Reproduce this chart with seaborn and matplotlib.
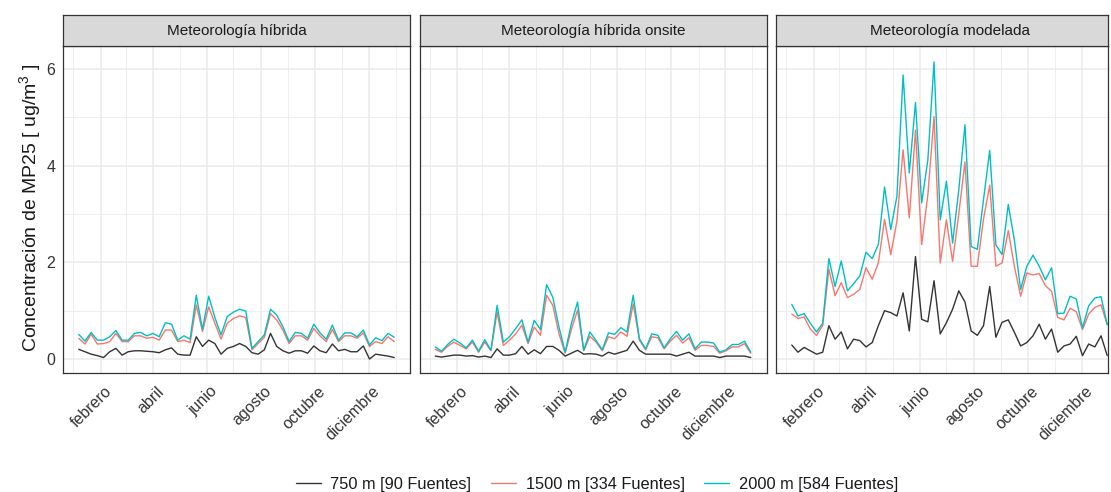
import numpy as np
import pandas as pd
import matplotlib
matplotlib.use("Agg")
import matplotlib.pyplot as plt
import matplotlib.dates as mdates
import matplotlib.transforms as mtransforms
from matplotlib.lines import Line2D
from matplotlib.ticker import FuncFormatter, MultipleLocator
import seaborn as sns

# Weekly dates
fechas = pd.date_range("2019-01-07", periods=52, freq="7D")

paneles = ["Meteorología híbrida", "Meteorología híbrida onsite", "Meteorología modelada"]
series = ["750 m [90 Fuentes]", "1500 m [334 Fuentes]", "2000 m [584 Fuentes]"]
colores = ["#333333", "#F8766D", "#00BFC4"]

hibrida_750 = [0.20, 0.15, 0.10, 0.07, 0.03, 0.15, 0.22, 0.08, 0.15, 0.17, 0.17, 0.16, 0.15,
               0.13, 0.19, 0.23, 0.10, 0.08, 0.08, 0.46, 0.26, 0.39, 0.32, 0.10, 0.22, 0.26,
               0.32, 0.26, 0.13, 0.10, 0.19, 0.53, 0.26, 0.17, 0.12, 0.17, 0.17, 0.12, 0.27,
               0.17, 0.13, 0.31, 0.17, 0.20, 0.15, 0.15, 0.27, 0.00, 0.10, 0.08, 0.06, 0.03]
hibrida_1500 = [0.43, 0.31, 0.51, 0.31, 0.32, 0.36, 0.53, 0.36, 0.36, 0.48, 0.48, 0.43, 0.45,
                0.39, 0.60, 0.60, 0.36, 0.39, 0.34, 1.12, 0.57, 1.08, 0.74, 0.41, 0.74, 0.84,
                0.89, 0.86, 0.19, 0.32, 0.45, 0.94, 0.81, 0.60, 0.32, 0.48, 0.48, 0.39, 0.63,
                0.48, 0.36, 0.61, 0.36, 0.48, 0.48, 0.43, 0.54, 0.26, 0.36, 0.32, 0.46, 0.36]
hibrida_2000 = [0.51, 0.37, 0.55, 0.39, 0.39, 0.46, 0.59, 0.39, 0.39, 0.53, 0.55, 0.48, 0.53,
                0.46, 0.75, 0.72, 0.39, 0.48, 0.41, 1.32, 0.61, 1.30, 0.86, 0.50, 0.88, 0.97,
                1.03, 0.99, 0.22, 0.36, 0.50, 1.03, 0.91, 0.67, 0.36, 0.55, 0.53, 0.43, 0.72,
                0.54, 0.41, 0.70, 0.39, 0.54, 0.54, 0.46, 0.60, 0.29, 0.44, 0.38, 0.53, 0.45]

onsite_750 = [0.06, 0.04, 0.06, 0.08, 0.08, 0.06, 0.07, 0.04, 0.06, 0.03, 0.21, 0.08, 0.08,
              0.11, 0.26, 0.10, 0.19, 0.11, 0.26, 0.26, 0.18, 0.06, 0.12, 0.18, 0.10, 0.11,
              0.10, 0.06, 0.14, 0.10, 0.14, 0.18, 0.37, 0.18, 0.10, 0.10, 0.10, 0.10, 0.10,
              0.06, 0.10, 0.14, 0.06, 0.06, 0.06, 0.06, 0.03, 0.06, 0.06, 0.06, 0.06, 0.03]
onsite_1500 = [0.20, 0.14, 0.26, 0.35, 0.28, 0.21, 0.35, 0.14, 0.35, 0.17, 0.97, 0.28, 0.39,
               0.52, 0.70, 0.32, 0.66, 0.49, 1.32, 1.11, 0.52, 0.12, 0.61, 1.01, 0.17, 0.47,
               0.35, 0.17, 0.46, 0.42, 0.56, 0.47, 1.14, 0.39, 0.19, 0.46, 0.44, 0.21, 0.37,
               0.49, 0.33, 0.44, 0.18, 0.28, 0.28, 0.26, 0.12, 0.17, 0.25, 0.25, 0.32, 0.12]
onsite_2000 = [0.25, 0.16, 0.30, 0.41, 0.33, 0.23, 0.39, 0.16, 0.40, 0.18, 1.11, 0.35, 0.46,
               0.63, 0.81, 0.35, 0.80, 0.61, 1.54, 1.28, 0.66, 0.14, 0.73, 1.18, 0.18, 0.56,
               0.38, 0.19, 0.54, 0.51, 0.65, 0.56, 1.32, 0.42, 0.21, 0.52, 0.49, 0.23, 0.42,
               0.57, 0.39, 0.52, 0.21, 0.35, 0.35, 0.33, 0.14, 0.19, 0.30, 0.30, 0.37, 0.14]

modelada_750 = [0.29, 0.14, 0.24, 0.17, 0.10, 0.14, 0.69, 0.41, 0.56, 0.21, 0.41, 0.38, 0.25,
                0.34, 0.69, 1.00, 0.96, 0.89, 1.37, 0.58, 2.12, 0.82, 0.77, 1.62, 0.52, 0.75,
                1.03, 1.41, 1.18, 0.58, 0.49, 0.69, 1.50, 0.45, 0.76, 0.81, 0.55, 0.27, 0.34,
                0.48, 0.72, 0.41, 0.62, 0.14, 0.27, 0.31, 0.47, 0.07, 0.31, 0.25, 0.48, 0.07]
modelada_1500 = [0.93, 0.84, 0.87, 0.62, 0.49, 0.69, 1.86, 1.31, 1.58, 1.27, 1.34, 1.44, 1.89,
                 1.65, 1.99, 2.89, 2.16, 2.85, 4.33, 2.92, 4.74, 2.37, 3.40, 5.02, 1.99, 2.88,
                 2.02, 3.00, 4.08, 1.92, 1.92, 2.90, 3.60, 1.92, 1.99, 2.66, 1.91, 1.30, 1.78,
                 1.74, 1.77, 1.52, 1.40, 0.86, 0.81, 1.05, 0.98, 0.61, 0.93, 1.07, 1.12, 0.71]
modelada_2000 = [1.13, 0.89, 0.94, 0.74, 0.56, 0.74, 2.08, 1.50, 2.03, 1.41, 1.56, 1.72, 2.21,
                 2.08, 2.37, 3.56, 2.68, 3.37, 5.88, 3.85, 5.31, 3.23, 4.12, 6.15, 2.88, 3.68,
                 2.40, 3.50, 4.85, 2.33, 2.27, 3.30, 4.32, 2.36, 2.16, 3.20, 2.45, 1.44, 1.92,
                 2.15, 1.92, 1.64, 1.89, 0.94, 0.95, 1.30, 1.24, 0.64, 1.10, 1.26, 1.29, 0.71]

valores = {
    paneles[0]: [hibrida_750, hibrida_1500, hibrida_2000],
    paneles[1]: [onsite_750, onsite_1500, onsite_2000],
    paneles[2]: [modelada_750, modelada_1500, modelada_2000],
}

meses = {2: "febrero", 4: "abril", 6: "junio", 8: "agosto", 10: "octubre", 12: "diciembre"}

filas = []
for panel in paneles:
    for serie, vals in zip(series, valores[panel]):
        for f, v in zip(fechas, vals):
            filas.append({"panel": panel, "serie": serie, "fecha": f, "valor": v})
df = pd.DataFrame(filas)

sns.set_style("white")
plt.rcParams["font.family"] = ["Liberation Sans", "DejaVu Sans"]
plt.rcParams["mathtext.fontset"] = "custom"
plt.rcParams["mathtext.rm"] = "Liberation Sans"
plt.rcParams["mathtext.default"] = "regular"

W, H = 1111, 492
fig = plt.figure(figsize=(W / 100, H / 100), dpi=100)
fig.patch.set_facecolor("white")

borde = "#333333"
grid_c = "#EBEBEB"
texto_eje = "#333333"

# panel geometry in pixels
lefts = [63, 419.5, 776]
widths = [347, 347, 332]
top_plot, bottom_plot = 46, 373
strip_top = 15

span = fechas[-1] - fechas[0]
pad = span * 0.05
x0 = fechas[0] - pad
full = span + 2 * pad

desplaza = mtransforms.ScaledTranslation(3 / 100, -3 / 100, fig.dpi_scale_trans)

for i, panel in enumerate(paneles):
    l, w = lefts[i], widths[i]
    ax = fig.add_axes([l / W, (H - bottom_plot) / H, w / W, (bottom_plot - top_plot) / H])
    sub = df[df["panel"] == panel]
    sns.lineplot(data=sub, x="fecha", y="valor", hue="serie", hue_order=series,
                 palette=colores, ax=ax, legend=False, linewidth=1.0, estimator=None)
    ax.set_xlim(x0, x0 + full * (w / 347))
    ax.set_ylim(-0.29, 6.48)
    ax.yaxis.set_major_locator(MultipleLocator(2))
    ax.yaxis.set_minor_locator(MultipleLocator(1))
    ax.xaxis.set_major_locator(mdates.MonthLocator(bymonth=[2, 4, 6, 8, 10, 12]))
    ax.xaxis.set_minor_locator(mdates.MonthLocator(bymonth=[1, 3, 5, 7, 9, 11]))
    ax.xaxis.set_major_formatter(FuncFormatter(
        lambda x, pos: meses.get(mdates.num2date(x).month, "")))
    ax.set_axisbelow(True)
    ax.grid(True, which="major", color=grid_c, linewidth=1.1)
    ax.grid(True, which="minor", color=grid_c, linewidth=0.6)
    for s in ax.spines.values():
        s.set_color(borde)
        s.set_linewidth(0.9)
    ax.tick_params(axis="both", which="major", length=3.6, width=0.8, color=borde,
                   labelcolor=texto_eje, labelsize=11.5, pad=2)
    ax.tick_params(axis="both", which="minor", length=0)
    for lab in ax.get_xticklabels():
        lab.set_rotation(45)
        lab.set_ha("right")
        lab.set_va("top")
        lab.set_rotation_mode("anchor")
        lab.set_transform(lab.get_transform() + desplaza)
    if i > 0:
        ax.tick_params(axis="y", labelleft=False, length=0)
    ax.set_xlabel("")
    ax.set_ylabel("")

    sax = fig.add_axes([l / W, (H - top_plot) / H, w / W, (top_plot - strip_top) / H])
    sax.set_facecolor("#D9D9D9")
    sax.set_xticks([])
    sax.set_yticks([])
    for s in sax.spines.values():
        s.set_color(borde)
        s.set_linewidth(0.9)
    sax.text(0.5 * 347 / w if i == 2 else 0.5, 0.5, panel, ha="center", va="center",
             fontsize=11, color="#1A1A1A", transform=sax.transAxes)

fig.text(30 / W, 1 - 208 / H, "Concentración de MP25 [ ug/m$^{3}$ ]", rotation=90,
         ha="center", va="center", fontsize=14, color="#1A1A1A")

handles = [Line2D([0], [0], color=c, lw=1.0) for c in colores]
fig.legend(handles, series, loc="center", bbox_to_anchor=(597 / W, 1 - 484 / H),
           ncol=3, frameon=False, fontsize=11.8, handlelength=1.5, handletextpad=0.6,
           columnspacing=1.2, labelcolor="#1A1A1A")

fig.savefig("out.png", dpi=100, facecolor="white")
